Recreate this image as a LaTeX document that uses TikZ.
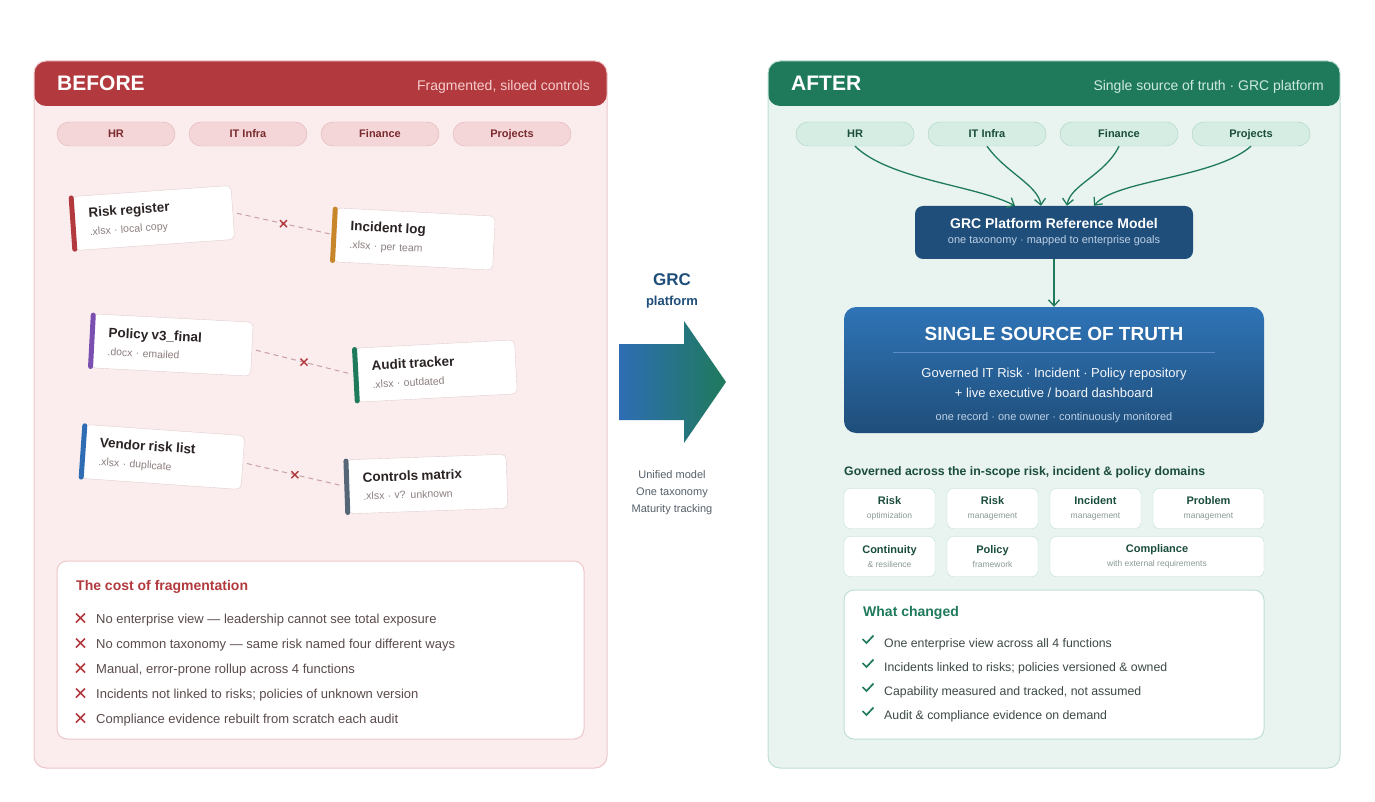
\documentclass[tikz,border=0pt]{standalone}
\usepackage{fontspec}
\setmainfont{Liberation Sans}
\usetikzlibrary{arrows.meta,positioning,calc}
\definecolor{beforeRed}  {RGB}{178, 58, 62}
\definecolor{beforeBg}   {RGB}{251,237,238}
\definecolor{beforeLine} {RGB}{237,199,202}
\definecolor{beforeSub}  {RGB}{246,205,205}
\definecolor{pillRed}    {RGB}{245,214,216}
\definecolor{pillRedLine}{RGB}{226,176,180}
\definecolor{pillRedText}{RGB}{122, 43, 46}
\definecolor{afterGreen} {RGB}{ 31,122, 92}
\definecolor{afterBg}    {RGB}{233,244,240}
\definecolor{afterLine}  {RGB}{191,223,210}
\definecolor{afterSub}   {RGB}{207,233,222}
\definecolor{pillGreen}  {RGB}{213,237,227}
\definecolor{pillGreenLine}{RGB}{169,211,193}
\definecolor{darkGreen}  {RGB}{ 27, 77, 59}
\definecolor{navyBlue}   {RGB}{ 31, 78,122}
\definecolor{brightBlue} {RGB}{ 47,116,183}
\definecolor{paleBlue}   {RGB}{188,208,230}
\definecolor{ruleBlue}   {RGB}{ 92,140,196}
\definecolor{cardText}   {RGB}{ 43, 35, 35}
\definecolor{cardSub}    {RGB}{140,126,126}
\definecolor{cardLine}   {RGB}{226,204,206}
\definecolor{linkGray}   {RGB}{201,160,163}
\definecolor{costText}   {RGB}{ 91, 75, 75}
\definecolor{okText}     {RGB}{ 60, 74, 69}
\definecolor{domSub}     {RGB}{138,154,148}
\definecolor{midText}    {RGB}{ 85, 96,106}
\definecolor{accOrange}  {RGB}{200,134, 42}
\definecolor{accPurple}  {RGB}{123, 79,176}
\definecolor{accBlue}    {RGB}{ 46,109,180}
\definecolor{accSlate}   {RGB}{ 85,102,119}
\newcommand{\fsz}[2]{\fontsize{#1}{#2}\selectfont}

\begin{document}
\begin{tikzpicture}[x=1pt,y=-1pt,
          panel/.style={rounded corners=12,line width=1pt,inner sep=0},
          hdr/.style={text=white,font=\bfseries\fsz{21}{24},inner sep=0},
          hdrsub/.style={font=\fsz{14}{16},inner sep=0},
          pillL/.style={rounded corners=12,draw=pillRedLine,fill=pillRed,text=pillRedText,
                        minimum width=118,minimum height=24,text height=8,text depth=0,
                        font=\bfseries\fsz{11}{13}},
          pillR/.style={rounded corners=12,draw=pillGreenLine,fill=pillGreen,text=darkGreen,
                        minimum width=118,minimum height=24,text height=8,text depth=0,
                        font=\bfseries\fsz{11}{13}},
          card/.style={draw=cardLine,fill=white,rounded corners=5,minimum width=160,
                       minimum height=54,text width=128,inner xsep=16,inner ysep=2,
                       align=left,text=cardText},
          accent/.style={line width=5pt,line cap=round,shorten >=1.5pt,shorten <=1.5pt},
          nolink/.style={linkGray,dashed,dash pattern=on 5pt off 4pt,line width=1pt,
                         shorten >=4pt,shorten <=4pt},
          cross/.style={beforeRed,line width=1.7pt},
          tick/.style={afterGreen,line width=1.7pt},
          box/.style={rounded corners=10,fill=white,line width=1pt},
          flow/.style={afterGreen,line width=1.3pt,-{Straight Barb[length=6pt,width=11pt]}},
        ]
        \useasboundingbox[fill=white] (0,0) rectangle (1375,802);

        % Before panel
        \node[panel,draw=beforeLine,fill=beforeBg,minimum width=573,minimum height=707,
              path picture={\fill[beforeRed] (path picture bounding box.north west)
                 rectangle ([yshift=-45pt]path picture bounding box.north east);}]
              (before) at (320.5,414.5) {};
        \node[hdr,anchor=base west] (beforeT) at (57,91) {BEFORE};
        \node[hdrsub,text=beforeSub,anchor=base east] (beforeS) at (590,91) {Fragmented, siloed controls};
        \foreach \nm/\xx/\lbl in {hrL/116/HR,itL/248/IT Infra,finL/380/Finance,prjL/512/Projects}{
          \node[pillL] (\nm) at (\xx,134) {\lbl};
        }

        % Silos
        \node[card,rotate=4]  (riskreg) at (153,218) {{\bfseries\fsz{13.5}{16}Risk register}\\[6pt]{\color{cardSub}\fsz{10.5}{12}.xlsx · local copy}};
        \node[card,rotate=-3] (inclog)  at (414,239) {{\bfseries\fsz{13.5}{16}Incident log}\\[6pt]{\color{cardSub}\fsz{10.5}{12}.xlsx · per team}};
        \node[card,rotate=-3] (policy)  at (172,345) {{\bfseries\fsz{13.5}{16}Policy v3\_final}\\[6pt]{\color{cardSub}\fsz{10.5}{12}.docx · emailed}};
        \node[card,rotate=3]  (audit)   at (436,371) {{\bfseries\fsz{13.5}{16}Audit tracker}\\[6pt]{\color{cardSub}\fsz{10.5}{12}.xlsx · outdated}};
        \node[card,rotate=-4] (vendor)  at (163,457) {{\bfseries\fsz{13.5}{16}Vendor risk list}\\[6pt]{\color{cardSub}\fsz{10.5}{12}.xlsx · duplicate}};
        \node[card,rotate=2]  (ctrl)    at (427,484) {{\bfseries\fsz{13.5}{16}Controls matrix}\\[6pt]{\color{cardSub}\fsz{10.5}{12}.xlsx · v? unknown}};
        \foreach \c/\col in {riskreg/beforeRed,inclog/accOrange,policy/accPurple,
                             audit/afterGreen,vendor/accBlue,ctrl/accSlate}{
          \draw[accent,\col] (\c.north west) -- (\c.south west);
        }
        \draw[nolink] (riskreg.east) -- coordinate (brk1) (inclog.west);
        \draw[nolink] (policy.east) -- coordinate (brk2) (audit.west);
        \draw[nolink] (vendor.east) -- coordinate (brk3) (ctrl.west);
        \foreach \b in {brk1,brk2,brk3}{
          \draw[beforeRed,line width=1.4pt] ($(\b)+(-3.5,-3.5)$) -- ($(\b)+(3.5,3.5)$)
                                            ($(\b)+(3.5,-3.5)$) -- ($(\b)+(-3.5,3.5)$);
        }

        % Cost box
        \node[box,draw=beforeLine,minimum width=527,minimum height=178] (cost) at (320.5,650) {};
        \node[anchor=base west,inner sep=0,text=beforeRed,font=\bfseries\fsz{14}{16}] (costT) at (76,590) {The cost of fragmentation};
        \foreach \yy/\txt in {623/{No enterprise view --- leadership cannot see total exposure},
                              648/{No common taxonomy --- same risk named four different ways},
                              673/{Manual, error-prone rollup across 4 functions},
                              698/{Incidents not linked to risks; policies of unknown version},
                              723/{Compliance evidence rebuilt from scratch each audit}}{
          \draw[cross] (76,\yy-9.5) -- (85,\yy-0.5) (85,\yy-9.5) -- (76,\yy-0.5);
          \node[anchor=base west,inner sep=0,text=costText,font=\fsz{13}{15}] at (96,\yy) {\txt};
        }

        % Middle
        \node[anchor=base,inner sep=0,text=navyBlue,font=\bfseries\fsz{17}{20}] (grc) at (672,285) {GRC};
        \node[anchor=base,inner sep=0,text=navyBlue,font=\bfseries\fsz{13}{15}] (grcP) at (672,305) {platform};
        \shade[left color=accBlue,right color=afterGreen]
              (619,344) -- (684,344) -- (684,321) -- (726,382) -- (684,443) -- (684,420) -- (619,420) -- cycle;
        \foreach \yy/\txt in {478/Unified model,495/One taxonomy,512/Maturity tracking}{
          \node[anchor=base,inner sep=0,text=midText,font=\fsz{11}{13}] at (672,\yy) {\txt};
        }

        % After panel
        \node[panel,draw=afterLine,fill=afterBg,minimum width=572,minimum height=707,
              path picture={\fill[afterGreen] (path picture bounding box.north west)
                 rectangle ([yshift=-45pt]path picture bounding box.north east);}]
              (after) at (1054,414.5) {};
        \node[hdr,anchor=base west] (afterT) at (791,91) {AFTER};
        \node[hdrsub,text=afterSub,anchor=base east] (afterS) at (1324,91) {Single source of truth · GRC platform};
        \foreach \nm/\xx/\lbl in {hrR/855/HR,itR/987/IT Infra,finR/1119/Finance,prjR/1251/Projects}{
          \node[pillR] (\nm) at (\xx,134) {\lbl};
        }

        % Reference model + SSOT
        \node[rounded corners=8,fill=navyBlue,minimum width=278,minimum height=53,align=center]
              (refm) at (1054,232.5) {{\color{white}\bfseries\fsz{14}{16}GRC Platform Reference Model}\\[3pt]
                                       {\color{paleBlue}\fsz{11}{13}one taxonomy · mapped to enterprise goals}};
        \draw[flow] (hrR.south)  .. controls (890,180) and (975,185) .. ($(refm.north)+(-39,0)$);
        \draw[flow] (itR.south)  .. controls (1005,172) and (1038,185) .. ($(refm.north)+(-13,0)$);
        \draw[flow] (finR.south) .. controls (1105,175) and (1070,185) .. ($(refm.north)+(13,0)$);
        \draw[flow] (prjR.south) .. controls (1215,178) and (1115,180) .. ($(refm.north)+(40,0)$);

        \node[rounded corners=12,top color=brightBlue,bottom color=navyBlue,
              minimum width=420,minimum height=126] (ssot) at (1054,370) {};
        \draw[flow] (refm.south) -- (ssot.north);
        \node[anchor=base,inner sep=0,text=white,font=\bfseries\fsz{19}{22}] (ssotT) at (1054,340) {SINGLE SOURCE OF TRUTH};
        \draw[ruleBlue,line width=0.8pt] ($(ssot.north)+(-161,46)$) -- ($(ssot.north)+(161,46)$);
        \node[anchor=base,inner sep=0,text=white!85!paleBlue,font=\fsz{13}{15}] (ssot1) at (1054,377) {Governed IT Risk · Incident · Policy repository};
        \node[anchor=base,inner sep=0,text=white!85!paleBlue,font=\fsz{13}{15}] (ssot2) at (1054,397) {+ live executive / board dashboard};
        \node[anchor=base,inner sep=0,text=paleBlue,font=\fsz{11}{12}] (ssot3) at (1054,420) {one record · one owner · continuously monitored};

        % Domains
        \node[anchor=base west,inner sep=0,text=darkGreen,font=\bfseries\fsz{12.3}{15}] (domT) at (844,475)
              {Governed across the in-scope risk, incident \& policy domains};
        \tikzset{dom/.style={draw=afterLine,fill=white,rounded corners=6,minimum height=40,align=center,
                 text=darkGreen,inner sep=0}}
        \foreach \nm/\xx/\yy/\w/\ttl/\sub in {dRopt/889.5/508.5/91/Risk/optimization,
                                              dRmgt/992.5/508.5/91/Risk/management,
                                              dInc/1095.5/508.5/91/Incident/management,
                                              dPrb/1208.5/508.5/111/Problem/management,
                                              dCon/889.5/556.5/91/Continuity/\& resilience,
                                              dPol/992.5/556.5/91/Policy/framework,
                                              dCmp/1157/556.5/214/Compliance/with external requirements}{
          \node[dom,minimum width=\w] (\nm) at (\xx,\yy)
                {{\bfseries\fsz{11}{13}\ttl}\\[2pt]{\color{domSub}\fsz{8.5}{10}\sub}};
        }

        % What changed
        \node[box,draw=afterLine,minimum width=420,minimum height=149] (chg) at (1054,664.5) {};
        \node[anchor=base west,inner sep=0,text=afterGreen,font=\bfseries\fsz{14}{16}] (chgT) at (863,616) {What changed};
        \foreach \yy/\txt in {647/One enterprise view across all 4 functions,
                              671/Incidents linked to risks; policies versioned \& owned,
                              695/{Capability measured and tracked, not assumed},
                              719/Audit \& compliance evidence on demand}{
          \draw[tick] (862.5,\yy-8) -- (866.5,\yy-4) -- (873.5,\yy-11.5);
          \node[anchor=base west,inner sep=0,text=okText,font=\fsz{12.3}{14}] at (884,\yy) {\txt};
        }
      \end{tikzpicture}
\end{document}
